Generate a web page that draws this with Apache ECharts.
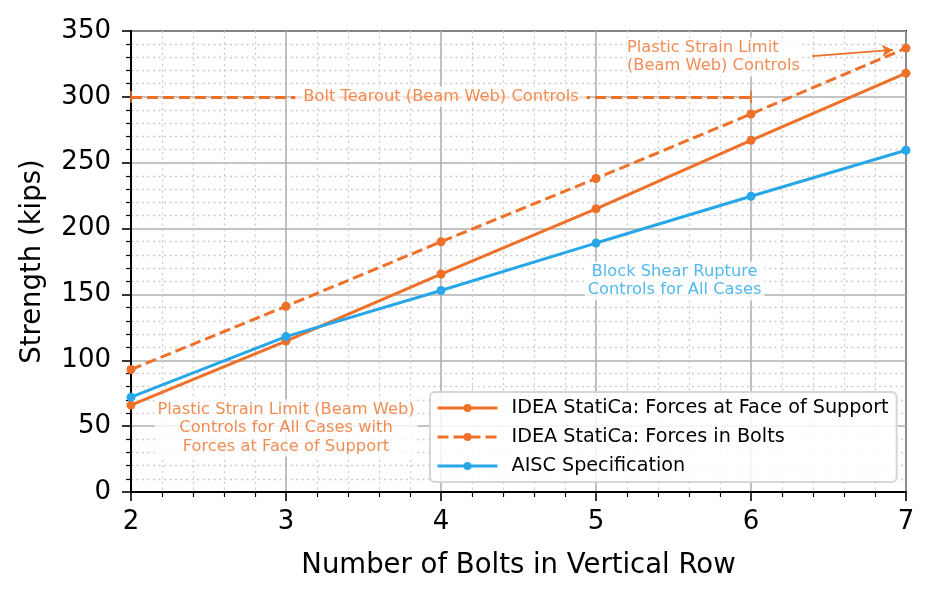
<!DOCTYPE html>
<html lang="en">
<head>
    <meta charset="UTF-8">
    <title>bolt strength</title>
    <style>
        html, body { margin: 0; padding: 0; background: #fff; }
        #chart { width: 935px; height: 599px; }
    </style>
</head>
<body>
<div id="chart"></div>
<script src="https://cdn.jsdelivr.net/npm/echarts@6/dist/echarts.min.js"></script>
<script>
    var bolts = [2, 3, 4, 5, 6, 7];
    var faceOfSupport = [66, 114.5, 165.5, 215, 267, 318];
    var forcesInBolts = [93, 141, 190, 238, 287, 337];
    var aiscSpec = [72, 118, 153, 189, 224.5, 259.5];

    var orange = "#EE7029";
    var blue = "#27A7E7";
    var font = "'DejaVu Sans'";

    function pairs(xs, ys) {
        var out = [];
        for (var i = 0; i < xs.length; i++) {
            out.push([xs[i], ys[i]]);
        }
        return out;
    }

    // text placed in data coordinates through an invisible scatter point
    function note(x, y, text, color, align, pad) {
        return {
            type: "scatter",
            data: [[x, y]],
            symbolSize: 0,
            silent: true,
            z: 6,
            label: {
                show: true,
                position: "inside",
                formatter: text,
                color: color,
                fontFamily: font,
                fontSize: 16.3,
                lineHeight: 18.5,
                align: align || "center",
                backgroundColor: "#fff",
                padding: pad || [1, 3]
            }
        };
    }

    function axisCommon() {
        return {
            nameLocation: "middle",
            nameTextStyle: { fontFamily: font, fontSize: 27.5, color: "#000" },
            axisLine: { show: true, lineStyle: { color: "#000", width: 2 } },
            axisTick: { show: true, length: 9, lineStyle: { color: "#000", width: 1.6 } },
            minorTick: { show: true, splitNumber: 5, length: 5, lineStyle: { color: "#000", width: 1.2 } },
            splitLine: { show: true, lineStyle: { color: "#b0b0b0", width: 1.6 } },
            minorSplitLine: { show: true, lineStyle: { color: "#cccccc", type: [2, 3.5], width: 1.3 } }
        };
    }

    var xAxis = axisCommon();
    xAxis.type = "value";
    xAxis.min = 2;
    xAxis.max = 7;
    xAxis.interval = 1;
    xAxis.name = "Number of Bolts in Vertical Row";
    xAxis.nameGap = 60;
    xAxis.axisLabel = { fontFamily: font, fontSize: 26, color: "#000", margin: 17 };

    var yAxis = axisCommon();
    yAxis.type = "value";
    yAxis.min = 0;
    yAxis.max = 350;
    yAxis.interval = 50;
    yAxis.name = "Strength (kips)";
    yAxis.nameGap = 84;
    yAxis.axisLabel = { fontFamily: font, fontSize: 26, color: "#000", margin: 20 };

    var chart = echarts.init(document.getElementById("chart"));
    var option = {
        animation: false,
        grid: {
            left: 131, right: 29, top: 31, bottom: 107,
            show: true, borderColor: "#000", borderWidth: 2
        },
        xAxis: xAxis,
        yAxis: yAxis,
        legend: {
            orient: "vertical",
            left: 430, top: 392,
            itemWidth: 60, itemHeight: 10, itemGap: 7,
            padding: [5, 8, 5, 6],
            backgroundColor: "rgba(255,255,255,0.85)",
            borderColor: "#d6d6d6", borderWidth: 2, borderRadius: 5,
            lineStyle: { width: 3 },
            textStyle: { fontFamily: font, fontSize: 19.2, lineHeight: 22, color: "#000", padding: [0, 0, 0, 9] },
            data: ["IDEA StatiCa: Forces at Face of Support", "IDEA StatiCa: Forces in Bolts", "AISC Specification"]
        },
        series: [
            {
                name: "IDEA StatiCa: Forces at Face of Support",
                type: "line", z: 4,
                data: pairs(bolts, faceOfSupport),
                symbol: "circle", symbolSize: 9,
                lineStyle: { color: orange, width: 3 },
                itemStyle: { color: orange }
            },
            {
                name: "IDEA StatiCa: Forces in Bolts",
                type: "line", z: 4,
                data: pairs(bolts, forcesInBolts),
                symbol: "circle", symbolSize: 9,
                lineStyle: { color: orange, width: 3, type: [11, 5] },
                itemStyle: { color: orange }
            },
            {
                name: "AISC Specification",
                type: "line", z: 4,
                data: pairs(bolts, aiscSpec),
                symbol: "circle", symbolSize: 9,
                lineStyle: { color: blue, width: 3 },
                itemStyle: { color: blue }
            },
            {
                // annotation lines: bolt tearout bracket and arrow
                type: "line", data: [], silent: true, z: 5,
                markLine: {
                    silent: true, animation: false,
                    symbol: ["none", "none"],
                    label: { show: false },
                    data: [
                        [{ coord: [2, 300], lineStyle: { color: orange, width: 3, type: [11, 5] } },
                         { coord: [6, 300] }],
                        [{ coord: [6, 304.5], lineStyle: { color: orange, width: 1.6, type: "solid" } },
                         { coord: [6, 295] }],
                        [{ coord: [2, 304.5], lineStyle: { color: orange, width: 1.6, type: "solid" } },
                         { coord: [2, 295.5] }],
                        [{ coord: [6.394, 331], symbol: "none", lineStyle: { color: orange, width: 1.8, type: "solid" } },
                         { coord: [6.916, 335.6], symbol: "arrow", symbolSize: [9, 11] }]
                    ]
                }
            },
            note(4, 300, "Bolt Tearout (Beam Web) Controls", orange, "center", [1, 8]),
            note(5.2, 330.3, "Plastic Strain Limit\n(Beam Web) Controls", orange, "left", [1, 0]),
            note(5.507, 160.2, "Block Shear Rupture\nControls for All Cases", blue),
            note(3.0, 48.6, "Plastic Strain Limit (Beam Web)\nControls for All Cases with\nForces at Face of Support", orange)
        ]
    };
    chart.setOption(option);
</script>
</body>
</html>
